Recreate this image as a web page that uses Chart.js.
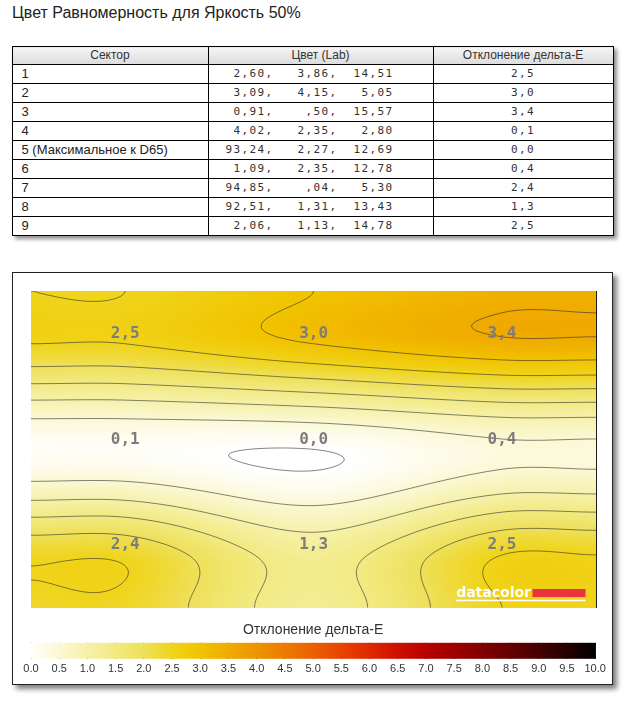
<!DOCTYPE html>
<html lang="ru">
<head>
<meta charset="utf-8">
<title>Цвет Равномерность для Яркость 50%</title>
<script src="https://cdn.jsdelivr.net/npm/chart.js@4.4.1/dist/chart.umd.min.js"></script>
<style>
  html, body { margin: 0; padding: 0; background: #fff; }
  body { width: 625px; height: 703px; position: relative; overflow: hidden;
         font-family: "Liberation Sans", Arial, sans-serif; color: #222; }
  #title { position: absolute; left: 12px; top: 4px; font-size: 16px; line-height: 18px; color: #222; }

  #sector-table { position: absolute; left: 11.5px; top: 46px; width: 601px; border-collapse: collapse;
                  table-layout: fixed; background: #fff; box-shadow: 3px 3px 4px rgba(0,0,0,.45); }
  #sector-table th, #sector-table td { border: 1px solid #000; height: 18px; line-height: 18px;
                  padding: 0; white-space: pre; overflow: hidden; }
  #sector-table th { height: 17px; line-height: 17px; font-weight: normal; font-size: 12px; color: #333;
                     background: linear-gradient(#f5f5f5, #dcdcdc); }
  #sector-table td.sec { padding-left: 9px; font-size: 13px; color: #222; }
  #sector-table td.lab, #sector-table td.de { font-family: "DejaVu Sans Mono", monospace; font-size: 11px;
                  letter-spacing: 1.38px; color: #333; }
  #sector-table td.lab { padding-left: 17px; }
  #sector-table td.de { text-align: center; }

  .chart-box { position: absolute; left: 11.5px; top: 272px; width: 599px; height: 411px;
               border: 1px solid #222; background: #fff; box-shadow: 4px 4px 5px rgba(0,0,0,.5); }
  .heat-wrap { position: absolute; left: 0; top: 0; width: 599px; height: 345px; }
  .legend-wrap { position: absolute; left: 0; top: 346px; width: 599px; height: 61px; }
</style>
</head>
<body>
<div id="title">Цвет Равномерность для Яркость 50%</div>

<table id="sector-table">
  <colgroup><col style="width:196px"><col style="width:225px"><col style="width:180px"></colgroup>
  <thead><tr><th>Сектор</th><th>Цвет (Lab)</th><th>Отклонение дельта-E</th></tr></thead>
  <tbody id="sector-rows"></tbody>
</table>

<div class="chart-box">
  <div class="heat-wrap"><canvas id="chart-uniformity"></canvas></div>
  <div class="legend-wrap"><canvas id="chart-legend"></canvas></div>
</div>

<script>
(function() {
  'use strict';

  // ── Data ──────────────────────────────────────────────────────
  const SECTORS = ['1', '2', '3', '4', '5 (Максимальное к D65)', '6', '7', '8', '9'];
  const LAB_L   = ['2,60', '3,09', '0,91', '4,02', '93,24', '1,09', '94,85', '92,51', '2,06'];
  const LAB_A   = ['3,86', '4,15', ',50', '2,35', '2,27', '2,35', ',04', '1,31', '1,13'];
  const LAB_B   = ['14,51', '5,05', '15,57', '2,80', '12,69', '12,78', '5,30', '13,43', '14,78'];
  const DELTA_E = [2.5, 3.0, 3.4, 0.1, 0.0, 0.4, 2.4, 1.3, 2.5];

  const GRID_COLS    = 3;
  const GRID_TICKS   = [-0.5, 0.5, 1.5, 2.5];
  const LEGEND_TICKS = [0, 0.5, 1, 1.5, 2, 2.5, 3, 3.5, 4, 4.5, 5, 5.5, 6, 6.5, 7, 7.5, 8, 8.5, 9, 9.5, 10];
  const LEGEND_TITLE = 'Отклонение дельта-Е';

  // ── Colours ───────────────────────────────────────────────────
  const RAMP = ['#ffffff','#fbf8d4','#f6f1aa','#f2ea82','#eee05a','#f0d41a','#f1c300','#f0ab00',
                '#ee9400','#ec7b00','#ea6000','#e84400','#e02800','#cf0e00','#b80000','#9e0000',
                '#820000','#640000','#460000','#240000','#000000'];
  const FONT = '"Liberation Sans", Arial, sans-serif';
  const MONO = '"DejaVu Sans Mono", monospace';
  const RAMP_RGB = RAMP.map(h => [1, 3, 5].map(i => parseInt(h.substr(i, 2), 16)));

  const comma = v => v.toFixed(1).replace('.', ',');

  // ── Table ─────────────────────────────────────────────────────
  const pad5 = s => s.padStart(5, ' ');
  document.getElementById('sector-rows').innerHTML = SECTORS.map((s, k) =>
    `<tr><td class="sec">${s}</td>` +
    `<td class="lab">${pad5(LAB_L[k])},  ${pad5(LAB_A[k])},  ${pad5(LAB_B[k])}</td>` +
    `<td class="de">${comma(DELTA_E[k])}</td></tr>`).join('');

  // ── Field helpers (smooth surface through the 3×3 sector values) ─
  const KNOTS = [-0.5, 0, 1, 2, 2.5];
  const clampIdx = i => Math.max(0, Math.min(GRID_COLS - 1, i - 1));

  function hermite(fs, t) {
    const n = KNOTS.length;
    let i = 0;
    while (i < n - 2 && t > KNOTS[i + 1]) i++;
    const tan = j => (j === 0 || j === n - 1) ? 0 : (fs[j + 1] - fs[j - 1]) / (KNOTS[j + 1] - KNOTS[j - 1]);
    const h = KNOTS[i + 1] - KNOTS[i];
    const s = Math.max(0, Math.min(1, (t - KNOTS[i]) / h));
    const s2 = s * s, s3 = s2 * s;
    return (2*s3 - 3*s2 + 1) * fs[i] + (s3 - 2*s2 + s) * h * tan(i) +
           (-2*s3 + 3*s2) * fs[i + 1] + (s3 - s2) * h * tan(i + 1);
  }
  function columnAt(xv) {
    return KNOTS.map((_, j) => {
      const r = clampIdx(j);
      return hermite(KNOTS.map((_, i) => DELTA_E[r * GRID_COLS + clampIdx(i)]), xv);
    });
  }
  function rampColor(v) {
    const p = Math.max(0, Math.min(LEGEND_TICKS.length - 1.0001, v / 0.5));
    const i = Math.floor(p), t = p - i;
    const a = RAMP_RGB[i], b = RAMP_RGB[i + 1];
    return [0, 1, 2].map(c => a[c] + (b[c] - a[c]) * t);
  }

  // ── Plugins ───────────────────────────────────────────────────
  const heatmapPlugin = {
    id: 'heatmap',
    beforeDatasetsDraw(chart) {
      const { ctx, chartArea: a, scales: { x, y } } = chart;
      const dpr = chart.currentDevicePixelRatio || 1;
      const W = Math.round(a.width * dpr), H = Math.round(a.height * dpr);
      const img = ctx.createImageData(W, H);
      const yv = [];
      for (let j = 0; j < H; j++) yv.push(y.getValueForPixel(a.top + (j + 0.5) / dpr));
      for (let i = 0; i < W; i++) {
        const col = columnAt(x.getValueForPixel(a.left + (i + 0.5) / dpr));
        for (let j = 0; j < H; j++) {
          const c = rampColor(hermite(col, yv[j]));
          const o = (j * W + i) * 4;
          img.data[o] = c[0]; img.data[o + 1] = c[1]; img.data[o + 2] = c[2]; img.data[o + 3] = 255;
        }
      }
      ctx.putImageData(img, Math.round(a.left * dpr), Math.round(a.top * dpr));

      // contour lines every 0.5
      const step = 2;
      const px = [], py = [];
      for (let p = a.left; p < a.right; p += step) px.push(p);
      px.push(a.right);
      for (let p = a.top; p < a.bottom; p += step) py.push(p);
      py.push(a.bottom);
      const nx = px.length, ny = py.length;
      const F = new Float32Array(nx * ny);
      const yvals = py.map(p => y.getValueForPixel(p));
      px.forEach((p, i) => {
        const col = columnAt(x.getValueForPixel(p));
        for (let j = 0; j < ny; j++) F[j * nx + i] = hermite(col, yvals[j]);
      });
      ctx.save();
      ctx.beginPath();
      ctx.rect(a.left, a.top, a.width, a.height);
      ctx.clip();
      ctx.strokeStyle = 'rgba(45,45,45,0.58)';
      ctx.lineWidth = 1;
      ctx.lineJoin = 'round';
      const lerp = (p0, p1, v0, v1, L) => p0 + (p1 - p0) * (L - v0) / (v1 - v0);
      LEGEND_TICKS.forEach(L => {
        ctx.beginPath();
        for (let j = 0; j < ny - 1; j++) {
          for (let i = 0; i < nx - 1; i++) {
            const v0 = F[j*nx + i], v1 = F[j*nx + i + 1], v2 = F[(j+1)*nx + i + 1], v3 = F[(j+1)*nx + i];
            const c = (v0 >= L ? 8 : 0) | (v1 >= L ? 4 : 0) | (v2 >= L ? 2 : 0) | (v3 >= L ? 1 : 0);
            if (c === 0 || c === 15) continue;
            const T = () => [lerp(px[i], px[i+1], v0, v1, L), py[j]];
            const R = () => [px[i+1], lerp(py[j], py[j+1], v1, v2, L)];
            const B = () => [lerp(px[i], px[i+1], v3, v2, L), py[j+1]];
            const Lf = () => [px[i], lerp(py[j], py[j+1], v0, v3, L)];
            const seg = (p, q) => { const A = p(), Q = q(); ctx.moveTo(A[0], A[1]); ctx.lineTo(Q[0], Q[1]); };
            switch (c) {
              case 1: case 14: seg(Lf, B); break;
              case 2: case 13: seg(B, R); break;
              case 3: case 12: seg(Lf, R); break;
              case 4: case 11: seg(T, R); break;
              case 6: case 9:  seg(T, B); break;
              case 7: case 8:  seg(Lf, T); break;
              case 5:  seg(Lf, T); seg(B, R); break;
              case 10: seg(T, R); seg(Lf, B); break;
            }
          }
        }
        ctx.stroke();
      });
      ctx.restore();
    }
  };

  const cellLabelPlugin = {
    id: 'cellLabels',
    afterDatasetsDraw(chart) {
      const { ctx } = chart;
      const meta = chart.getDatasetMeta(0);
      ctx.save();
      ctx.font = 'bold 16px ' + MONO;
      ctx.fillStyle = '#7c7c7c';
      ctx.textAlign = 'center';
      ctx.textBaseline = 'middle';
      meta.data.forEach((el, k) => {
        ctx.fillText(comma(chart.data.datasets[0].data[k].v), el.x, el.y - 10);
      });
      ctx.restore();
    }
  };

  const logoPlugin = {
    id: 'logo',
    afterDraw(chart) {
      const { ctx, chartArea: a } = chart;
      const rx = a.right - 63.7, base = a.bottom - 10.7;
      ctx.save();
      ctx.fillStyle = '#e8343c';
      ctx.fillRect(rx, base - 8, 53, 8);
      ctx.font = 'bold 14px "DejaVu Sans", sans-serif';
      ctx.fillStyle = '#ffffff';
      ctx.textAlign = 'right';
      ctx.textBaseline = 'alphabetic';
      ctx.fillText('datacolor', rx - 1.5, base);
      const w = ctx.measureText('datacolor').width;
      ctx.strokeStyle = '#ffffff';
      ctx.lineWidth = 1.3;
      ctx.beginPath();
      ctx.moveTo(rx - 1.5 - w, base + 3.5);
      ctx.lineTo(rx + 53, base + 3.5);
      ctx.stroke();
      ctx.restore();
    }
  };

  const colorbarPlugin = {
    id: 'colorbar',
    beforeDatasetsDraw(chart) {
      const { ctx, chartArea: a, scales: { x } } = chart;
      const x0 = x.getPixelForValue(LEGEND_TICKS[0]);
      const x1 = x.getPixelForValue(LEGEND_TICKS[LEGEND_TICKS.length - 1]);
      const g = ctx.createLinearGradient(x0, 0, x1, 0);
      LEGEND_TICKS.forEach((v, i) => g.addColorStop((x.getPixelForValue(v) - x0) / (x1 - x0), RAMP[i]));
      ctx.save();
      ctx.fillStyle = g;
      ctx.fillRect(x0, a.top, x1 - x0, a.bottom - a.top);
      ctx.restore();
    }
  };

  // ── Heatmap chart ─────────────────────────────────────────────
  const edgeColor = c => (c.tick.value === GRID_TICKS[0] || c.tick.value === GRID_TICKS[GRID_TICKS.length - 1])
    ? '#1a1a1a' : '#bebebe';

  new Chart(document.getElementById('chart-uniformity'), {
    type: 'scatter',
    data: {
      datasets: [{
        data: DELTA_E.map((v, k) => ({ x: k % GRID_COLS, y: Math.floor(k / GRID_COLS), v })),
        pointRadius: 0,
        pointHoverRadius: 0
      }]
    },
    options: {
      responsive: true,
      maintainAspectRatio: false,
      animation: false,
      events: [],
      layout: { padding: { left: 18, top: 18, right: 15.8, bottom: 10.3 } },
      plugins: { legend: { display: false }, tooltip: { enabled: false } },
      scales: {
        x: {
          type: 'linear', min: GRID_TICKS[0], max: GRID_TICKS[GRID_TICKS.length - 1], z: 1,
          afterBuildTicks: axis => { axis.ticks = GRID_TICKS.map(v => ({ value: v })); },
          ticks: { display: false },
          grid: { color: edgeColor, drawTicks: false },
          border: { display: true, color: '#1a1a1a' }
        },
        y: {
          type: 'linear', min: GRID_TICKS[0], max: GRID_TICKS[GRID_TICKS.length - 1], reverse: true, z: 1,
          afterBuildTicks: axis => { axis.ticks = GRID_TICKS.map(v => ({ value: v })); },
          ticks: { display: false },
          grid: { color: edgeColor, drawTicks: false },
          border: { display: true, color: '#1a1a1a' }
        }
      }
    },
    plugins: [heatmapPlugin, cellLabelPlugin, logoPlugin]
  });

  // ── Colour legend ─────────────────────────────────────────────
  new Chart(document.getElementById('chart-legend'), {
    type: 'scatter',
    data: { datasets: [{ data: [] }] },
    options: {
      responsive: true,
      maintainAspectRatio: false,
      animation: false,
      events: [],
      layout: { padding: { left: 18, right: 16.8, top: 0, bottom: 0 } },
      plugins: {
        legend: { display: false },
        tooltip: { enabled: false },
        title: {
          display: true, text: LEGEND_TITLE, color: '#333',
          font: { family: FONT, size: 14, weight: 'normal' },
          padding: { top: 3, bottom: 4 }
        }
      },
      scales: {
        x: {
          type: 'linear', min: LEGEND_TICKS[0], max: LEGEND_TICKS[LEGEND_TICKS.length - 1], z: 1,
          afterBuildTicks: axis => { axis.ticks = LEGEND_TICKS.map(v => ({ value: v })); },
          ticks: { callback: v => v.toFixed(1), color: '#333', font: { family: FONT, size: 11 },
                   padding: 4, maxRotation: 0, autoSkip: false },
          grid: { color: '#111', drawTicks: false },
          border: { display: false }
        },
        y: { display: false, min: 0, max: 1 }
      }
    },
    plugins: [colorbarPlugin]
  });

})();
</script>
</body>
</html>
